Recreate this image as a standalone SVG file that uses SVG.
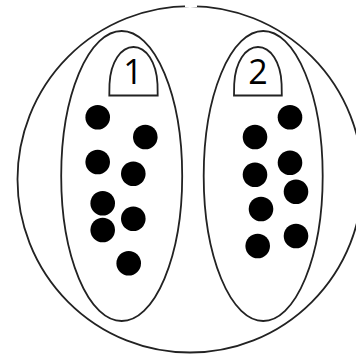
<svg xmlns="http://www.w3.org/2000/svg" width="356" height="357" viewBox="0 0 356 357">
<style>
.o{fill:none;stroke:#222;stroke-width:1.8}
.d{fill:#000}
.t{font-family:"Open Sans","Liberation Sans",sans-serif;font-size:34px;fill:#000;text-anchor:middle}
</style>
<rect width="356" height="357" fill="#fff"/>
<g id="outer"><ellipse class="o" cx="190" cy="179.3" rx="172.5" ry="173.2"/></g>
<rect x="185" y="4" width="12" height="3" fill="#fff"/>
<g id="group1">
<ellipse class="o" cx="121.7" cy="176" rx="60.5" ry="145"/>
<path class="o" d="M109.3,95.5 L109.5,84 C110.5,62 121,47 133.5,47 C146,47 156.5,62 157.5,84 L157.7,95.5 Z"/>
<text class="t" x="133" y="84">1</text>
<circle class="d" cx="97.7" cy="117.3" r="12.3"/>
<circle class="d" cx="145.3" cy="137" r="12.3"/>
<circle class="d" cx="97.7" cy="162" r="12.3"/>
<circle class="d" cx="133.3" cy="173.7" r="12.3"/>
<circle class="d" cx="102.7" cy="203.3" r="12.3"/>
<circle class="d" cx="133.3" cy="218.7" r="12.3"/>
<circle class="d" cx="102.7" cy="230" r="12.3"/>
<circle class="d" cx="128.7" cy="263.3" r="12.3"/>
</g>
<g id="group2">
<ellipse class="o" cx="263.2" cy="176" rx="59.5" ry="145"/>
<path class="o" d="M234,95.5 L234.2,84 C235.2,62 245.5,47 258,47 C270.5,47 280.8,62 281.6,84 L281.8,95.5 Z"/>
<text class="t" x="258" y="84">2</text>
<circle class="d" cx="290" cy="117.3" r="12.3"/>
<circle class="d" cx="255" cy="137" r="12.3"/>
<circle class="d" cx="290" cy="162.7" r="12.3"/>
<circle class="d" cx="255" cy="174.7" r="12.3"/>
<circle class="d" cx="296" cy="191.7" r="12.3"/>
<circle class="d" cx="261" cy="209" r="12.3"/>
<circle class="d" cx="296" cy="236" r="12.3"/>
<circle class="d" cx="257.7" cy="246" r="12.3"/>
</g>
<g id="connectors"></g>
</svg>
